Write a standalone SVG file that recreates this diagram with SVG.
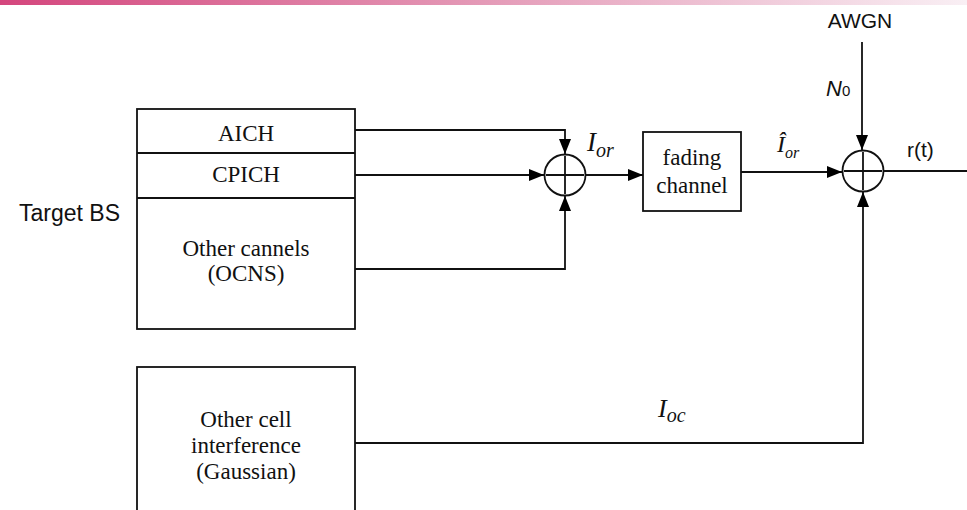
<svg xmlns="http://www.w3.org/2000/svg" width="967" height="510" viewBox="0 0 967 510">
<defs>
<linearGradient id="bar" x1="0" y1="0" x2="1" y2="0">
<stop offset="0" stop-color="#d4467d"/>
<stop offset="0.5" stop-color="#e49ab7"/>
<stop offset="1" stop-color="#f9eff4"/>
</linearGradient>
<marker id="arr" markerUnits="userSpaceOnUse" markerWidth="16" markerHeight="12" refX="15" refY="6" orient="auto">
<path d="M0,0 L15,6 L0,12 z" fill="#000"/>
</marker>
</defs>
<style>
.box{fill:#fff;stroke:#111;stroke-width:1.8}
.ln{fill:none;stroke:#111;stroke-width:1.8}
.con{fill:none;stroke:#111;stroke-width:1.8;marker-end:url(#arr)}
.tr{font-family:"Liberation Serif","Times New Roman",serif;font-size:23px;fill:#111;text-anchor:middle}
.ti{font-family:"Liberation Serif","Times New Roman",serif;font-style:italic;fill:#111}
.sa{font-family:"Liberation Sans",Arial,sans-serif;fill:#111}
</style>
<rect x="0" y="0" width="967" height="5" fill="url(#bar)"/>

<g id="label-target-bs"><text class="sa" x="19" y="221" font-size="23">Target BS</text></g>

<g id="target-bs">
<rect class="box" x="137" y="109" width="218" height="220"/>
<line class="ln" x1="137" y1="153" x2="355" y2="153"/>
<line class="ln" x1="137" y1="198" x2="355" y2="198"/>
<text class="tr" x="246" y="141">AICH</text>
<text class="tr" x="246" y="182">CPICH</text>
<text class="tr" x="246" y="256">Other cannels</text>
<text class="tr" x="246" y="281">(OCNS)</text>
</g>

<g id="other-cell">
<rect class="box" x="137" y="367" width="218" height="160"/>
<text class="tr" x="246" y="427">Other cell</text>
<text class="tr" x="246" y="453">interference</text>
<text class="tr" x="246" y="479">(Gaussian)</text>
</g>

<g id="sum1">
<circle class="box" cx="565" cy="175" r="20.5"/>
<line class="ln" x1="546" y1="175" x2="584" y2="175"/>
<line class="ln" x1="565" y1="156" x2="565" y2="194"/>
</g>

<g id="fading-channel">
<rect class="box" x="643" y="132" width="98" height="79"/>
<text class="tr" x="692" y="165">fading</text>
<text class="tr" x="692" y="193">channel</text>
</g>

<g id="sum2">
<circle class="box" cx="863" cy="171" r="20.5"/>
<line class="ln" x1="844" y1="171" x2="882" y2="171"/>
<line class="ln" x1="863" y1="152" x2="863" y2="190"/>
</g>

<g id="awgn"><text class="sa" x="860" y="28" font-size="21" text-anchor="middle">AWGN</text></g>

<g id="connectors">
<path class="con" d="M355,130 H565 V154"/>
<path class="con" d="M355,175 H544"/>
<path class="con" d="M355,269 H565 V196"/>
<path class="con" d="M585.5,175 H643"/>
<path class="con" d="M741,172 H842"/>
<path class="con" d="M862,42 V150"/>
<path class="con" d="M883.5,171 H982"/>
<path class="con" d="M355,443 H863 V192"/>
</g>

<g id="labels">
<text class="ti" x="587" y="151" font-size="27">I<tspan font-size="20" dy="6">or</tspan></text>
<text class="ti" x="777" y="152" font-size="24">Î<tspan font-size="16" dy="6">or</tspan></text>
<text class="ti" x="658" y="417" font-size="26">I<tspan font-size="20" dy="5">oc</tspan></text>
<text class="sa" x="826" y="96" font-size="22"><tspan font-style="italic">N</tspan><tspan font-size="15">0</tspan></text>
<text class="sa" x="907" y="157" font-size="21">r(t)</text>
</g>
</svg>
